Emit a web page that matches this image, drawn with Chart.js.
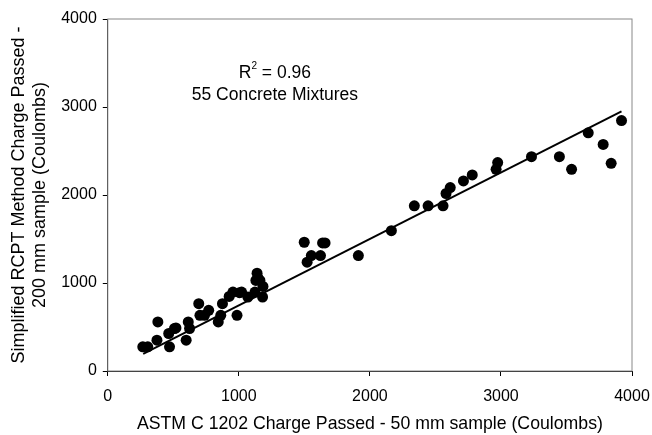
<!DOCTYPE html>
<html>
<head>
<meta charset="utf-8">
<script src="https://cdn.jsdelivr.net/npm/chart.js@4/dist/chart.umd.min.js"></script>
<style>
  body { margin: 0; background: #fff; }
  #wrap { width: 652px; height: 435px; }
</style>
</head>
<body>
<div id="wrap"><canvas id="rcptChart" width="652" height="435"></canvas></div>
<script>
// ASTM C 1202 charge (x) vs simplified RCPT charge (y), Coulombs
const astmCharge = [
  267, 305, 375, 382, 465, 471, 509, 598, 614, 624,
  694, 703, 738, 770, 843, 862, 875, 926, 955, 986,
  1021, 1069, 1123, 1139, 1130, 1161, 1184, 1181, 1499, 1521,
  1553, 1623, 1639, 1658, 1912, 2164, 2339, 2444, 2558, 2581,
  2613, 2714, 2781, 2963, 2975, 3233, 3446, 3539, 3666, 3780,
  3841, 3920, 1005, 1145, 520
];
const rcptCharge = [
  275, 275, 350, 558, 426, 275, 483, 350, 558, 483,
  765, 633, 633, 690, 558, 633, 765, 848, 897, 633,
  897, 841, 897, 1112, 1029, 1029, 961, 841, 1463, 1237,
  1312, 1312, 1455, 1455, 1312, 1595, 1877, 1877, 1877, 2017,
  2085, 2160, 2228, 2292, 2368, 2435, 2435, 2292, 2707, 2575,
  2360, 2846, 890, 1060, 490
];
// fitted trend line end points
const fitX = [270, 3920];
const fitY = [195, 2950];

const xTicks = [0, 1000, 2000, 3000, 4000];
const yTicks = [0, 1000, 2000, 3000, 4000];

const points = astmCharge.map((x, i) => ({ x: x, y: rcptCharge[i] }));
const fitLine = fitX.map((x, i) => ({ x: x, y: fitY[i] }));

const fontFamily = '"Liberation Sans", Arial, sans-serif';

// gray frame round the plot plus the text note
const framePlugin = {
  id: 'frame',
  beforeDatasetsDraw(chart) {
    const { ctx, chartArea } = chart;
    ctx.save();
    ctx.strokeStyle = '#888';
    ctx.lineWidth = 1;
    ctx.strokeRect(chartArea.left, chartArea.top, chartArea.right - chartArea.left, chartArea.bottom - chartArea.top);
    ctx.restore();
  },
  afterDraw(chart) {
    const { ctx } = chart;
    const xs = chart.scales.x;
    const ys = chart.scales.y;
    const cx = xs.getPixelForValue(1275);
    ctx.save();
    ctx.fillStyle = '#000';
    ctx.textBaseline = 'middle';
    ctx.font = '17.5px ' + fontFamily;
    const w1 = ctx.measureText('R').width;
    const w2 = ctx.measureText(' = 0.96').width;
    ctx.font = '10px ' + fontFamily;
    const ws = ctx.measureText('2').width;
    const left = cx - (w1 + ws + w2) / 2;
    const yR = ys.getPixelForValue(3386);
    ctx.textAlign = 'left';
    ctx.font = '17.5px ' + fontFamily;
    ctx.fillText('R', left, yR);
    ctx.fillText(' = 0.96', left + w1 + ws, yR);
    ctx.font = '10px ' + fontFamily;
    ctx.fillText('2', left + w1, yR - 7);
    ctx.font = '17.5px ' + fontFamily;
    ctx.textAlign = 'center';
    ctx.fillText('55 Concrete Mixtures', cx, ys.getPixelForValue(3136));
    ctx.restore();
  }
};

new Chart(document.getElementById('rcptChart'), {
  type: 'scatter',
  data: {
    datasets: [
      {
        data: points,
        backgroundColor: '#000',
        borderColor: '#000',
        borderWidth: 0,
        pointRadius: 5.5,
        pointHoverRadius: 5.5,
      },
      {
        type: 'line',
        data: fitLine,
        borderColor: '#000',
        borderWidth: 2,
        pointRadius: 0,
        showLine: true,
        fill: false,
      }
    ]
  },
  options: {
    responsive: false,
    animation: false,
    layout: { padding: { left: 8, right: 0, top: 19, bottom: 0 } },
    plugins: {
      legend: { display: false },
      tooltip: { enabled: false },
    },
    scales: {
      x: {
        type: 'linear',
        min: 0,
        max: 4000,
        afterBuildTicks: (axis) => { axis.ticks = xTicks.map(v => ({ value: v })); },
        // keep the bottom band and right gap the same as the original figure
        afterFit: (axis) => { axis.height = 64; axis.paddingRight = 20; },
        ticks: { color: '#000', font: { size: 16, family: fontFamily }, padding: 11, maxRotation: 0, callback: (v) => String(v) },
        grid: { drawOnChartArea: false, drawTicks: true, tickLength: 5, color: '#000' },
        border: { color: '#000', width: 1 },
        title: {
          display: true,
          text: 'ASTM C 1202 Charge Passed - 50 mm sample (Coulombs)',
          color: '#000',
          font: { size: 17.7, family: fontFamily },
          padding: { top: 9, bottom: 0 },
        },
      },
      y: {
        type: 'linear',
        min: 0,
        max: 4000,
        afterBuildTicks: (axis) => { axis.ticks = yTicks.map(v => ({ value: v })); },
        ticks: { color: '#000', font: { size: 16, family: fontFamily }, padding: 6, callback: (v) => String(v) },
        grid: { drawOnChartArea: false, drawTicks: true, tickLength: 5, color: '#000' },
        border: { color: '#000', width: 1 },
        title: {
          display: true,
          text: ['Simplified RCPT Method Charge Passed -', '200 mm sample (Coulombs)'],
          color: '#000',
          font: { size: 18, family: fontFamily, lineHeight: 1.2 },
          padding: { top: 0, bottom: 4 },
        },
      },
    },
  },
  plugins: [framePlugin],
});
</script>
</body>
</html>
